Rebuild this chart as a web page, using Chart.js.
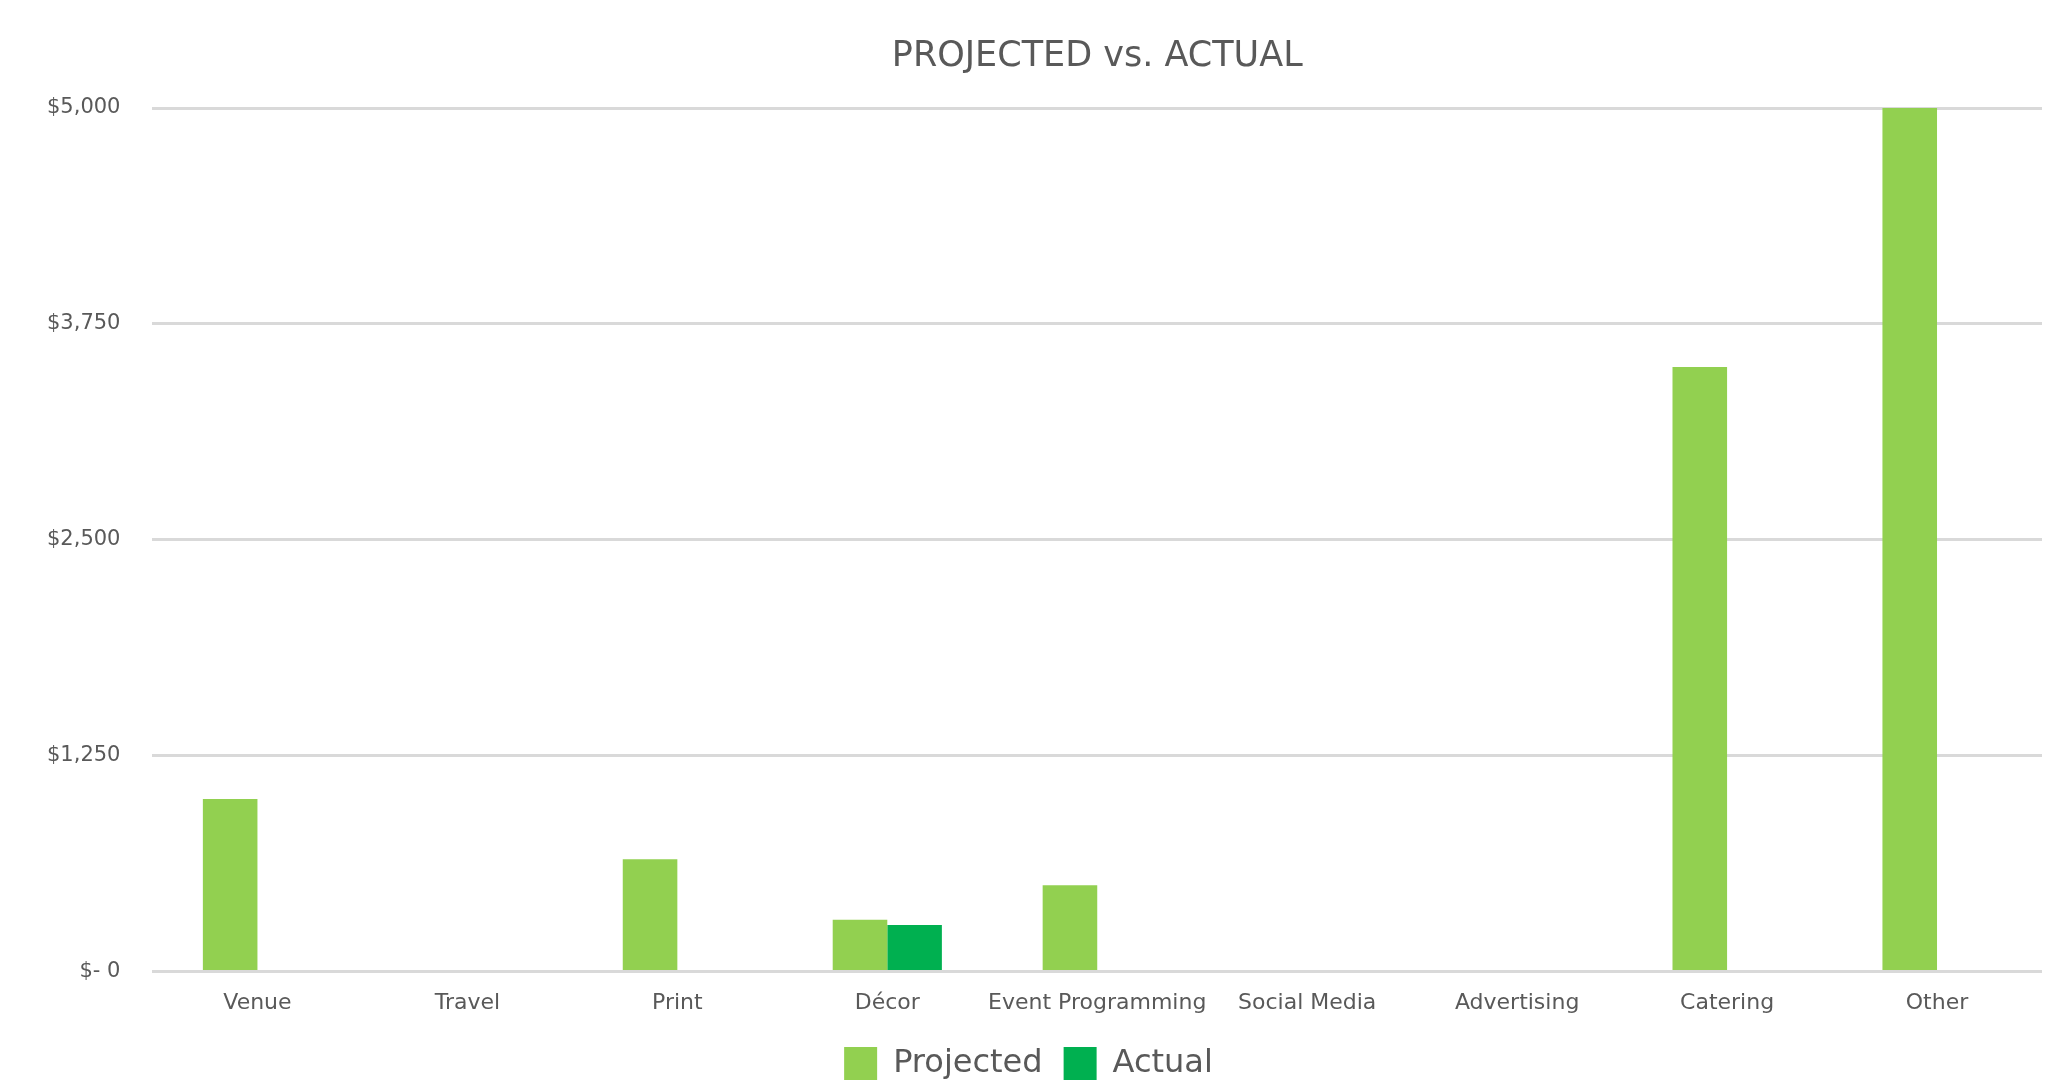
<!DOCTYPE html>
<html lang="en">
<head>
  <meta charset="UTF-8">
  <title>PROJECTED vs. ACTUAL</title>
  <script src="https://cdn.jsdelivr.net/npm/chart.js"></script>
  <style>
    html, body { margin: 0; padding: 0; background: #fff; }
    #wrap { width: 2053px; height: 1090px; }
  </style>
</head>
<body>
  <div id="wrap"><canvas id="myChart"></canvas></div>

<script>
  const categories = ['Venue', 'Travel', 'Print', 'Décor', 'Event Programming', 'Social Media', 'Advertising', 'Catering', 'Other'];
  const projectedData = [1000, 0, 650, 300, 500, 0, 0, 3500, 5000];
  const actualData = [0, 0, 0, 270, 0, 0, 0, 0, 0];
  const yTicks = [0, 1250, 2500, 3750, 5000];

  const textColor = '#595959';
  const fontFamily = '"DejaVu Sans", sans-serif';

  const ctx = document.getElementById('myChart');
  const myChart = new Chart(ctx, {
    type: 'bar',
    data: {
      labels: categories,
      datasets: [
        {
          label: 'Projected',
          data: projectedData,
          backgroundColor: '#92d050',
          categoryPercentage: 0.52,
          barPercentage: 1.0
        },
        {
          label: 'Actual',
          data: actualData,
          backgroundColor: '#00b050',
          categoryPercentage: 0.52,
          barPercentage: 1.0
        }
      ]
    },
    options: {
      responsive: true,
      maintainAspectRatio: false,
      animation: false,
      layout: { padding: { top: 36, right: 11, left: 15, bottom: 0 } },
      plugins: {
        title: {
          display: true,
          fullSize: false,
          text: 'PROJECTED vs. ACTUAL',
          color: textColor,
          font: { family: fontFamily, size: 35, weight: 'normal' },
          padding: { top: 0, bottom: 30 }
        },
        legend: {
          position: 'bottom',
          labels: {
            color: textColor,
            font: { family: fontFamily, size: 32 },
            boxWidth: 33,
            boxHeight: 33,
            padding: 21
          }
        },
        tooltip: { enabled: false }
      },
      scales: {
        x: {
          grid: { display: false },
          border: { display: false },
          ticks: {
            color: textColor,
            font: { family: fontFamily, size: 22 },
            padding: 10,
            maxRotation: 0,
            autoSkip: false
          }
        },
        y: {
          min: 0,
          max: 5000,
          afterBuildTicks: function(axis) {
            axis.ticks = yTicks.map(v => ({ value: v }));
          },
          grid: { color: '#d9d9d9', lineWidth: 3, drawTicks: false },
          border: { display: false },
          ticks: {
            color: textColor,
            font: { family: fontFamily, size: 21 },
            padding: 32,
            callback: function(value) {
              return value === 0 ? '$- 0' : '$' + value.toLocaleString('en-US');
            }
          }
        }
      }
    }
  });
</script>
</body>
</html>
